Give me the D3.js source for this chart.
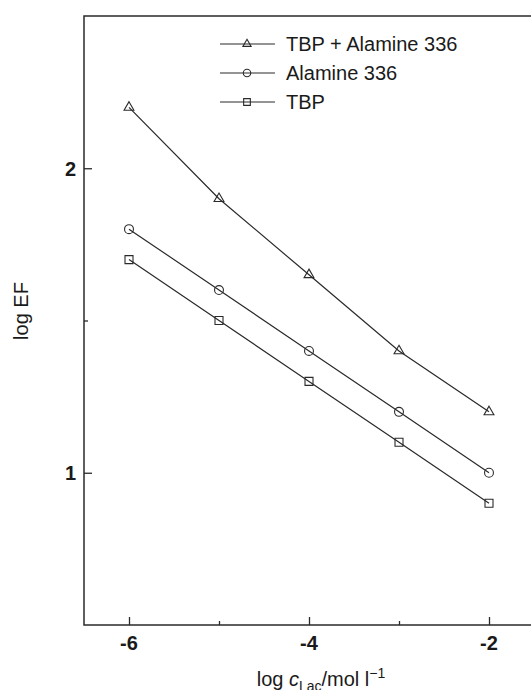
<!DOCTYPE html>
<html>
<head>
<meta charset="utf-8">
<script src="https://cdn.jsdelivr.net/npm/d3@7"></script>
<style>
  body { margin: 0; background: #fff; }
  text { font-family: "Liberation Sans", Arial, sans-serif; fill: #1a1a1a; }
</style>
</head>
<body>
<div id="chart"></div>
<script>
var logC = [-6, -5, -4, -3, -2];
var tbpAlamine = [2.2, 1.9, 1.65, 1.4, 1.2];
var alamine = [1.8, 1.6, 1.4, 1.2, 1.0];
var tbp = [1.7, 1.5, 1.3, 1.1, 0.9];
var seriesNames = ["TBP + Alamine 336", "Alamine 336", "TBP"];
var seriesSymbols = ["triangle", "circle", "square"];
var xTicks = [-6, -4, -2];
var xMinor = [-5, -3];
var yTicks = [1, 2];
var yMinor = [1.5];

var width = 531, height = 690;
var plotLeft = 84, plotTop = 16, plotRight = 534, plotBottom = 625;

var svg = d3.select("#chart")
  .append("svg")
    .attr("width", width)
    .attr("height", height);

var x = d3.scaleLinear().domain([-6.5, -1.5]).range([plotLeft, plotRight]);
var y = d3.scaleLinear().domain([0.5, 2.5]).range([plotBottom, plotTop]);

var ink = "#2a2a2a";

// frame
svg.append("rect")
    .attr("x", plotLeft)
    .attr("y", plotTop)
    .attr("width", plotRight - plotLeft)
    .attr("height", plotBottom - plotTop)
    .style("fill", "none")
    .style("stroke", ink)
    .style("stroke-width", 1.5);

// x axis ticks (inward)
var xAxis = svg.append("g")
    .attr("transform", "translate(0," + plotBottom + ")")
    .call(d3.axisTop(x).tickValues(xTicks).tickSize(8).tickFormat(""));
xAxis.select(".domain").remove();
xAxis.selectAll("line").style("stroke", ink).style("stroke-width", 1.3);

var xAxisMinor = svg.append("g")
    .attr("transform", "translate(0," + plotBottom + ")")
    .call(d3.axisTop(x).tickValues(xMinor).tickSize(4).tickFormat(""));
xAxisMinor.select(".domain").remove();
xAxisMinor.selectAll("line").style("stroke", ink).style("stroke-width", 1.3);

svg.selectAll(".xlabel")
    .data(xTicks)
  .enter().append("text")
    .attr("x", function(d) { return x(d); })
    .attr("y", plotBottom + 25)
    .attr("text-anchor", "middle")
    .style("font-size", "20px")
    .style("font-weight", "bold")
    .text(function(d) { return d; });

// y axis ticks (inward)
var yAxis = svg.append("g")
    .attr("transform", "translate(" + plotLeft + ",0)")
    .call(d3.axisRight(y).tickValues(yTicks).tickSize(8).tickFormat(""));
yAxis.select(".domain").remove();
yAxis.selectAll("line").style("stroke", ink).style("stroke-width", 1.3);

var yAxisMinor = svg.append("g")
    .attr("transform", "translate(" + plotLeft + ",0)")
    .call(d3.axisRight(y).tickValues(yMinor).tickSize(4).tickFormat(""));
yAxisMinor.select(".domain").remove();
yAxisMinor.selectAll("line").style("stroke", ink).style("stroke-width", 1.3);

svg.selectAll(".ylabel")
    .data(yTicks)
  .enter().append("text")
    .attr("x", plotLeft - 8)
    .attr("y", function(d) { return y(d) + 7.5; })
    .attr("text-anchor", "end")
    .style("font-size", "20px")
    .style("font-weight", "bold")
    .text(function(d) { return d; });

// axis titles
svg.append("text")
    .attr("transform", "translate(28,311) rotate(-90)")
    .attr("text-anchor", "middle")
    .style("font-size", "20px")
    .text("log EF");

var xt = svg.append("text")
    .attr("x", 321)
    .attr("y", 686)
    .attr("text-anchor", "middle")
    .style("font-size", "20px");
xt.append("tspan").text("log ");
xt.append("tspan").style("font-style", "italic").text("c");
xt.append("tspan").attr("dy", 5).style("font-size", "14px").text("Lac");
xt.append("tspan").attr("dy", -5).text("/mol l");
xt.append("tspan").attr("dy", -8).style("font-size", "14px").text("\u22121");

// series
var series = [tbpAlamine, alamine, tbp].map(function(vals, i) {
	return {
		name: seriesNames[i],
		symbol: seriesSymbols[i],
		points: logC.map(function(c, j) { return { x: c, y: vals[j] }; })
	};
});

var symbolType = {
	triangle: d3.symbolTriangle,
	circle: d3.symbolCircle,
	square: d3.symbolSquare
};
var symbolSize = { triangle: 42, circle: 62, square: 64 };

var line = d3.line()
    .x(function(d) { return x(d.x); })
    .y(function(d) { return y(d.y); });

var g = svg.selectAll(".series")
    .data(series)
  .enter().append("g")
    .attr("class", "series");

g.append("path")
    .attr("d", function(d) { return line(d.points); })
    .style("fill", "none")
    .style("stroke", ink)
    .style("stroke-width", 1.2);

g.each(function(s) {
	d3.select(this).selectAll("path.pt")
	    .data(s.points)
	  .enter().append("path")
	    .attr("class", "pt")
	    .attr("d", d3.symbol().type(symbolType[s.symbol]).size(symbolSize[s.symbol]))
	    .attr("transform", function(d) { return "translate(" + x(d.x) + "," + y(d.y) + ")"; })
	    .style("fill", "none")
	    .style("stroke", ink)
	    .style("stroke-width", 1.1);
});

// legend
var legend = svg.selectAll(".legend")
    .data(series)
  .enter().append("g")
    .attr("class", "legend")
    .attr("transform", function(d, i) { return "translate(220," + (44 + i * 29) + ")"; });

legend.append("line")
    .attr("x1", 0)
    .attr("x2", 55)
    .attr("y1", 0)
    .attr("y2", 0)
    .style("stroke", ink)
    .style("stroke-width", 1.2);

legend.append("path")
    .attr("d", function(d) { return d3.symbol().type(symbolType[d.symbol]).size(symbolSize[d.symbol] * 0.7)(); })
    .attr("transform", "translate(27,0)")
    .style("fill", "none")
    .style("stroke", ink)
    .style("stroke-width", 1.1);

legend.append("text")
    .attr("x", 66)
    .attr("y", 7)
    .style("font-size", "20px")
    .text(function(d) { return d.name; });
</script>
</body>
</html>
